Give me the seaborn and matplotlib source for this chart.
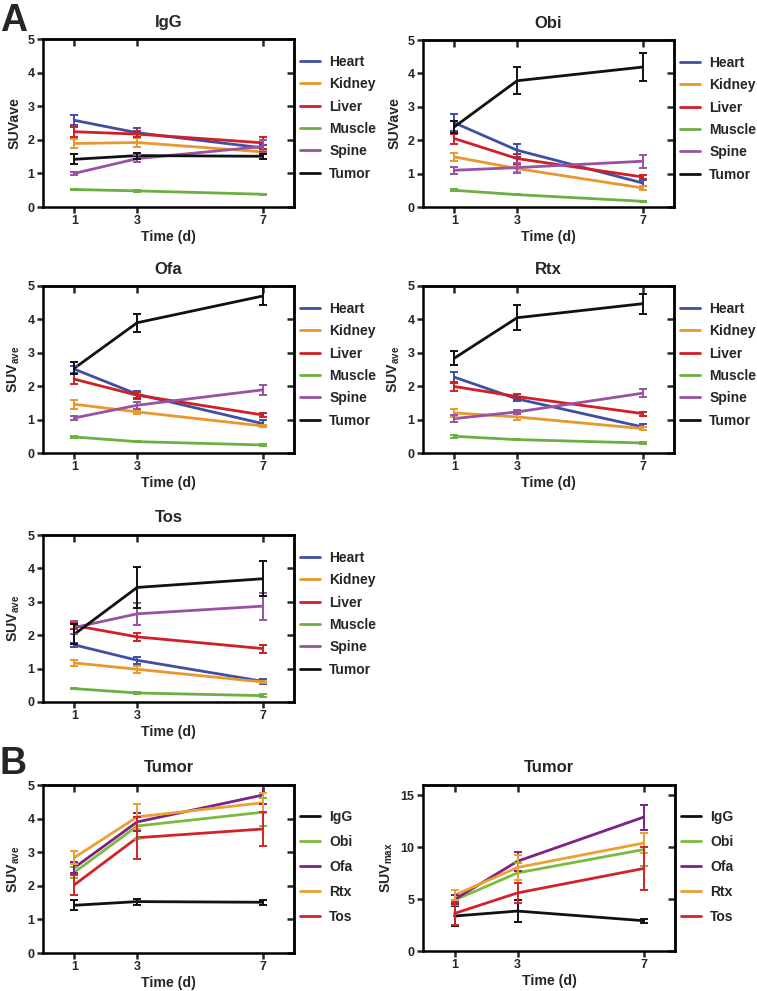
import numpy as np
import pandas as pd
import matplotlib
matplotlib.use("Agg")
import matplotlib.pyplot as plt
import seaborn as sns

sns.set_theme(style="ticks")
plt.rcParams["font.family"] = ["Liberation Sans", "DejaVu Sans"]
plt.rcParams["font.weight"] = "bold"
plt.rcParams["axes.labelweight"] = "bold"
plt.rcParams["axes.titleweight"] = "bold"
plt.rcParams["mathtext.fontset"] = "custom"
plt.rcParams["mathtext.rm"] = "Liberation Sans:bold"
plt.rcParams["mathtext.it"] = "Liberation Sans:bold"
plt.rcParams["mathtext.bf"] = "Liberation Sans:bold"

# -------------------------
# Data
# -------------------------
days = [1, 3, 7]
organs = ["Heart", "Kidney", "Liver", "Muscle", "Spine", "Tumor"]
organ_colors = ["#3f4fa3", "#e8982e", "#d01f26", "#6cb043", "#9952a3", "#111111"]
treatments = ["IgG", "Obi", "Ofa", "Rtx", "Tos"]
treat_colors = ["#111111", "#7cba3e", "#7b2283", "#eba032", "#d3222a"]

# SUVave, rows follow `organs`
igg_mean = [[2.58, 2.21, 1.76], [1.89, 1.92, 1.64], [2.24, 2.17, 1.91],
            [0.52, 0.48, 0.38], [1.00, 1.44, 1.80], [1.42, 1.53, 1.51]]
igg_err = [[0.15, 0.13, 0.10], [0.12, 0.13, 0.05], [0.15, 0.10, 0.17],
           [0.02, 0.03, 0.02], [0.05, 0.10, 0.20], [0.15, 0.09, 0.08]]

obi_mean = [[2.52, 1.70, 0.72], [1.50, 1.15, 0.57], [2.05, 1.45, 0.90],
            [0.50, 0.37, 0.17], [1.10, 1.18, 1.37], [2.40, 3.78, 4.19]]
obi_err = [[0.25, 0.19, 0.10], [0.12, 0.10, 0.05], [0.15, 0.15, 0.06],
           [0.03, 0.02, 0.01], [0.10, 0.15, 0.20], [0.17, 0.40, 0.41]]

ofa_mean = [[2.51, 1.76, 0.88], [1.46, 1.23, 0.81], [2.21, 1.73, 1.14],
            [0.48, 0.34, 0.24], [1.05, 1.43, 1.89], [2.54, 3.90, 4.70]]
ofa_err = [[0.10, 0.10, 0.10], [0.13, 0.07, 0.04], [0.15, 0.10, 0.06],
           [0.02, 0.02, 0.02], [0.05, 0.10, 0.15], [0.17, 0.27, 0.27]]

rtx_mean = [[2.27, 1.62, 0.78], [1.20, 1.08, 0.73], [1.99, 1.69, 1.18],
            [0.50, 0.40, 0.30], [1.03, 1.23, 1.79], [2.84, 4.05, 4.47]]
rtx_err = [[0.17, 0.07, 0.08], [0.13, 0.08, 0.04], [0.14, 0.07, 0.06],
           [0.05, 0.02, 0.04], [0.10, 0.06, 0.12], [0.20, 0.37, 0.30]]

tos_mean = [[1.71, 1.25, 0.62], [1.17, 0.98, 0.60], [2.29, 1.95, 1.60],
            [0.40, 0.27, 0.19], [2.23, 2.64, 2.87], [2.03, 3.43, 3.69]]
tos_err = [[0.06, 0.10, 0.07], [0.10, 0.10, 0.04], [0.10, 0.12, 0.12],
           [0.02, 0.02, 0.04], [0.20, 0.32, 0.40], [0.30, 0.62, 0.52]]

# Tumor SUVmax, rows follow `treatments`
suvmax_mean = [[3.37, 3.85, 2.92], [4.90, 7.53, 9.78], [4.97, 8.65, 12.90],
               [5.38, 8.05, 10.40], [3.62, 5.60, 7.95]]
suvmax_err = [[1.00, 1.10, 0.20], [0.50, 1.00, 1.60], [0.40, 0.90, 1.20],
              [0.50, 1.20, 1.00], [1.10, 1.00, 2.10]]

W, H = 757, 991
fig = plt.figure(figsize=(W / 100, H / 100), dpi=100)


def make_ax(x0, y0, x1, y1):
    return fig.add_axes([x0 / W, 1 - y1 / H, (x1 - x0) / W, (y1 - y0) / H])


def style_ax(ax, ymax, yticks, ylabel, title):
    ax.set_xlim(0, 8)
    ax.set_ylim(0, ymax)
    ax.set_xticks(days)
    ax.set_yticks(yticks)
    ax.tick_params(direction="out", length=4.5, width=1.8, labelsize=9, pad=1.5)
    for s in ax.spines.values():
        s.set_linewidth(1.8)
        s.set_color("black")
        s.set_visible(True)
    top = ax.secondary_xaxis("top")
    top.set_xticks(days)
    top.tick_params(direction="in", length=5, width=1.8, labeltop=False)
    right = ax.secondary_yaxis("right")
    right.set_yticks(yticks)
    right.tick_params(direction="in", length=5, width=1.8, labelright=False)
    for sec in (top, right):
        for s in sec.spines.values():
            s.set_linewidth(1.8)
    ax.set_xlabel("Time (d)", fontsize=10.2, labelpad=2)
    ax.set_ylabel(ylabel, fontsize=10.2, labelpad=4)
    ax.set_title(title, fontsize=12, pad=9)


def series_panel(ax, names, colors, mean, err, legend_y, spacing):
    rows = []
    for name, m in zip(names, mean):
        for d, v in zip(days, m):
            rows.append({"day": d, "value": v, "series": name})
    df = pd.DataFrame(rows)
    sns.lineplot(data=df, x="day", y="value", hue="series", hue_order=names,
                 palette=colors, linewidth=2, ax=ax)
    for m, e, c in zip(mean, err, colors):
        ax.errorbar(days, m, yerr=e, fmt="none", ecolor=c, elinewidth=1.4,
                    capsize=3, capthick=1.4)
    handles, labels = ax.get_legend_handles_labels()
    ax.legend(handles, labels, loc="upper left", bbox_to_anchor=(1.024, legend_y),
              frameon=False, fontsize=10, handlelength=1.45, handletextpad=0.65,
              labelspacing=spacing, borderpad=0, borderaxespad=0)


organ_sets = [
    ("IgG", igg_mean, igg_err, "SUVave", (43, 39, 294, 207)),
    ("Obi", obi_mean, obi_err, "SUVave", (423, 40, 674, 207)),
    ("Ofa", ofa_mean, ofa_err, r"SUV$_{ave}$", (43, 286, 294, 453)),
    ("Rtx", rtx_mean, rtx_err, r"SUV$_{ave}$", (423, 286, 674, 453)),
    ("Tos", tos_mean, tos_err, r"SUV$_{ave}$", (43, 535, 294, 702)),
]

for title, mean, err, ylab, box in organ_sets:
    ax = make_ax(*box)
    series_panel(ax, organs, organ_colors, mean, err, 0.905, 0.6)
    style_ax(ax, 5, range(0, 6), ylab, title)

# Panel B: tumor SUVave comparison
tumor_mean = [m[-1] for m in (igg_mean, obi_mean, ofa_mean, rtx_mean, tos_mean)]
tumor_err = [e[-1] for e in (igg_err, obi_err, ofa_err, rtx_err, tos_err)]

axb1 = make_ax(43, 785, 294, 953)
series_panel(axb1, treatments, treat_colors, tumor_mean, tumor_err, 0.85, 0.79)
style_ax(axb1, 5, range(0, 6), r"SUV$_{ave}$", "Tumor")

axb2 = make_ax(423, 785, 675, 951)
series_panel(axb2, treatments, treat_colors, suvmax_mean, suvmax_err, 0.85, 0.79)
style_ax(axb2, 16, [0, 5, 10, 15], r"SUV$_{max}$", "Tumor")

fig.text(0, 1 - 3 / H, "A", fontsize=27, fontweight="bold", va="top", ha="left")
fig.text(0, 1 - 746 / H, "B", fontsize=27, fontweight="bold", va="top", ha="left")

fig.savefig("out.png", dpi=100)
